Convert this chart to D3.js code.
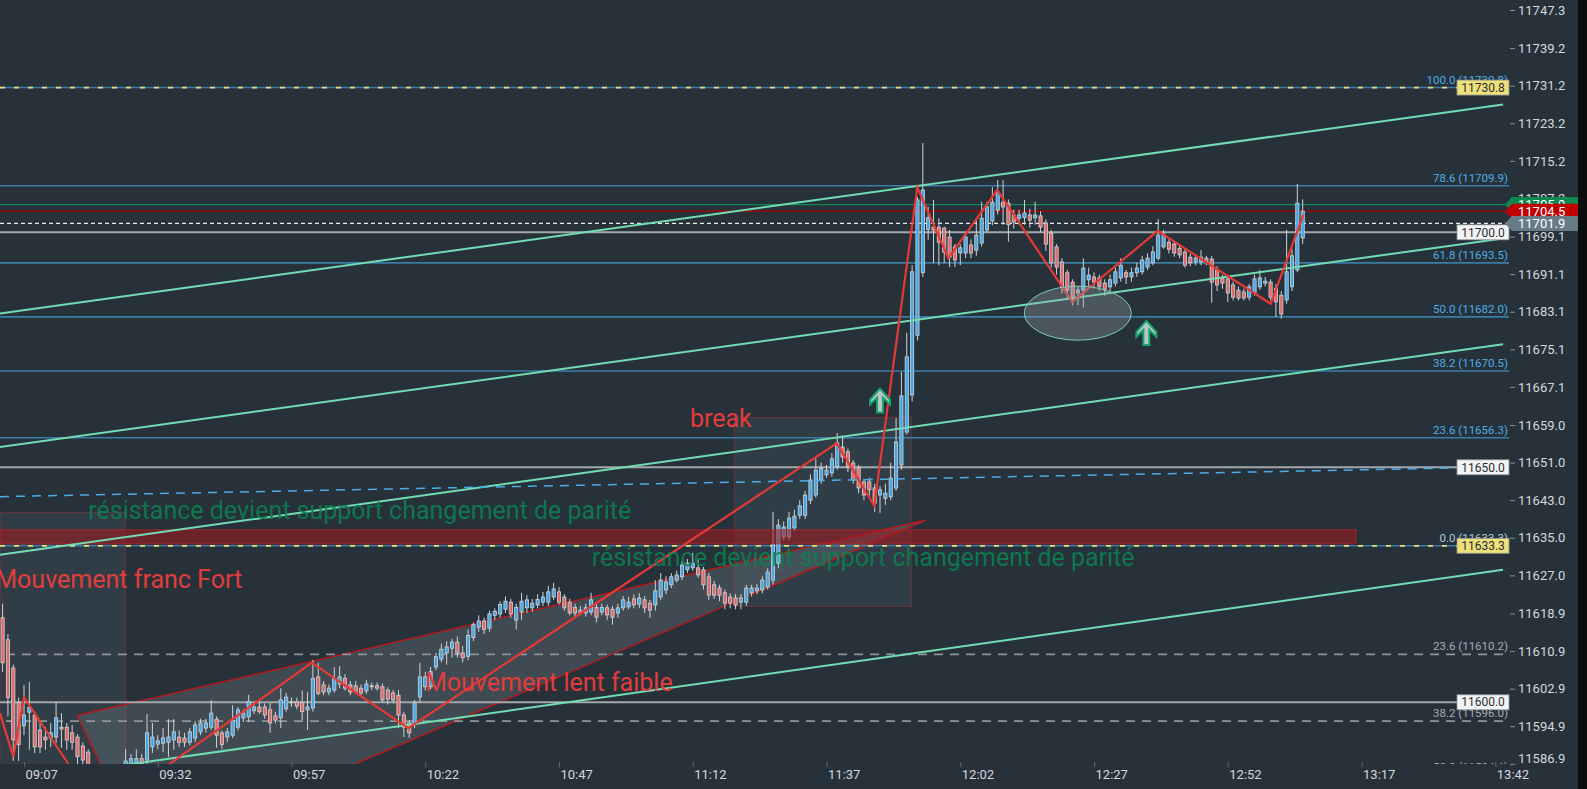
<!DOCTYPE html>
<html><head><meta charset="utf-8">
<script src="https://cdn.jsdelivr.net/npm/d3@7"></script>
<style>
html,body{margin:0;padding:0;background:#0a0c0e;}
svg{display:block;font-family:Roboto,"Noto Sans",sans-serif;}
</style></head><body>
<svg id="chart" width="1587" height="789"></svg>
<script>
// ---------------- DATA ----------------
const candleStart = "09:03";
// [open, high, low, close] one candle per minute
const ohlc = [
[11618.0,11621.0,11606.5,11608.4],[11613.3,11614.5,11597.0,11601.0],[11607.3,11608.0,11587.5,11592.0],[11599.9,11601.0,11587.5,11591.0],
[11595.0,11603.7,11593.0,11597.3],[11597.9,11604.3,11589.9,11598.9],[11597.3,11598.0,11589.2,11590.5],[11594.1,11595.6,11589.2,11590.5],
[11592.6,11594.7,11589.9,11592.0],[11592.4,11595.6,11590.5,11593.5],[11592.6,11600.1,11591.3,11596.7],[11594.7,11597.7,11590.3,11594.3],
[11594.7,11595.6,11589.9,11592.0],[11593.5,11595.2,11589.9,11591.5],[11592.6,11593.2,11585.5,11588.4],[11590.7,11591.5,11584.5,11587.7],
[11589.4,11590.0,11583.0,11585.0],[11585.0,11586.0,11580.5,11582.0],[11582.0,11583.5,11579.0,11580.5],[11580.5,11582.5,11578.5,11581.5],
[11581.5,11584.0,11580.0,11583.0],[11583.0,11585.5,11581.5,11584.5],[11584.5,11586.5,11582.0,11585.0],[11586.0,11590.0,11584.0,11587.5],
[11586.0,11589.0,11584.0,11588.0],[11587.0,11590.0,11585.0,11588.0],[11588.0,11589.0,11585.0,11587.0],[11587.7,11597.5,11586.5,11593.5],
[11590.5,11595.6,11589.2,11592.6],[11591.1,11593.0,11590.0,11591.8],[11591.3,11594.5,11589.4,11592.4],[11591.5,11596.4,11588.4,11592.6],
[11592.0,11596.4,11589.9,11593.7],[11592.6,11594.0,11590.5,11591.5],[11592.4,11593.5,11590.5,11591.5],[11591.5,11594.5,11590.8,11593.7],
[11592.4,11596.0,11591.5,11595.2],[11593.7,11596.5,11593.0,11595.6],[11594.5,11596.5,11593.5,11595.6],[11594.7,11600.5,11594.1,11597.7],
[11596.4,11597.0,11590.3,11593.0],[11593.5,11594.0,11590.0,11591.0],[11592.6,11594.5,11591.5,11593.7],[11593.0,11599.4,11592.4,11596.2],
[11594.7,11599.0,11594.0,11598.4],[11596.7,11598.5,11595.8,11597.7],[11596.9,11601.6,11595.8,11600.1],[11598.2,11600.0,11597.5,11599.0],
[11599.0,11600.5,11597.5,11598.0],[11599.0,11599.8,11596.5,11597.3],[11598.4,11599.9,11593.5,11595.6],[11597.1,11598.0,11595.5,11596.2],
[11596.7,11603.0,11594.5,11600.5],[11598.6,11602.0,11598.0,11601.1],[11599.9,11601.0,11599.0,11600.1],[11600.1,11601.0,11598.5,11599.2],
[11599.9,11602.5,11596.2,11598.0],[11598.4,11602.2,11594.1,11599.0],[11598.8,11609.0,11598.0,11605.1],[11605.4,11608.4,11601.5,11601.9],
[11603.7,11604.5,11601.5,11602.2],[11602.2,11603.8,11601.5,11603.0],[11602.6,11607.5,11602.0,11605.1],[11603.9,11607.7,11603.0,11605.4],
[11605.1,11606.0,11602.5,11603.0],[11603.7,11604.5,11601.5,11602.2],[11603.5,11604.5,11601.8,11602.2],[11603.0,11603.8,11601.5,11602.0],
[11602.4,11604.8,11601.8,11603.9],[11603.3,11604.2,11602.6,11603.5],[11603.5,11604.2,11602.5,11603.0],[11603.3,11604.0,11600.0,11600.5],
[11602.6,11603.2,11599.5,11600.7],[11602.0,11602.6,11599.8,11600.5],[11601.5,11602.6,11594.5,11597.3],[11597.3,11598.0,11592.6,11594.7],
[11595.6,11596.2,11592.4,11593.5],[11595.2,11600.5,11594.5,11599.9],[11601.1,11608.4,11599.9,11605.4],[11603.3,11606.5,11602.5,11605.4],
[11603.3,11607.5,11602.8,11606.5],[11607.5,11610.5,11606.8,11609.7],[11609.2,11612.5,11608.5,11611.3],[11610.5,11613.0,11608.0,11611.8],
[11611.5,11613.5,11609.5,11612.8],[11612.8,11614.0,11609.5,11610.5],[11610.5,11612.0,11608.5,11609.5],[11609.8,11615.5,11609.0,11614.2],
[11613.8,11617.0,11613.0,11616.5],[11616.0,11618.5,11615.0,11617.3],[11617.3,11618.0,11614.5,11615.5],[11615.8,11619.5,11615.0,11618.8],
[11618.5,11620.0,11617.5,11619.3],[11618.8,11621.5,11618.0,11620.8],[11619.8,11622.5,11619.0,11621.5],[11621.3,11622.0,11618.0,11618.8],
[11617.5,11621.0,11615.5,11620.2],[11619.2,11623.3,11617.5,11621.5],[11620.1,11622.8,11619.0,11621.8],[11620.1,11622.0,11619.3,11621.1],
[11620.7,11623.0,11620.0,11621.9],[11621.3,11623.5,11620.5,11622.4],[11621.3,11624.8,11620.5,11623.5],[11622.4,11625.4,11621.8,11624.1],
[11623.5,11624.5,11620.8,11621.3],[11622.4,11623.0,11619.5,11620.1],[11621.3,11622.0,11618.5,11619.0],[11620.2,11621.0,11618.3,11619.0],
[11619.6,11620.5,11618.5,11619.0],[11619.0,11621.0,11618.2,11620.1],[11619.2,11623.3,11618.5,11621.8],[11620.2,11621.0,11617.0,11618.1],
[11619.2,11621.0,11618.5,11620.2],[11620.1,11620.8,11617.5,11618.6],[11619.8,11620.5,11616.5,11618.1],[11619.0,11621.0,11618.0,11620.1],
[11620.1,11622.6,11619.5,11621.8],[11620.3,11622.5,11619.8,11621.3],[11622.0,11623.0,11620.0,11620.7],[11620.9,11623.2,11620.0,11622.2],
[11621.8,11622.6,11619.0,11620.1],[11621.1,11621.8,11618.0,11619.6],[11620.7,11626.0,11619.5,11623.7],[11622.4,11627.5,11621.8,11626.0],
[11623.9,11626.8,11623.0,11625.6],[11625.0,11627.5,11624.3,11626.7],[11626.0,11628.0,11625.5,11627.1],[11626.7,11630.0,11626.0,11629.2],
[11628.2,11630.5,11627.5,11629.6],[11628.6,11631.8,11628.0,11629.6],[11628.6,11630.5,11626.5,11627.1],[11628.2,11628.8,11624.0,11625.0],
[11626.7,11627.5,11621.8,11622.8],[11625.0,11625.8,11622.0,11622.8],[11624.3,11625.0,11621.5,11622.8],[11623.3,11624.0,11619.8,11621.1],
[11622.4,11623.2,11620.0,11621.1],[11622.2,11623.0,11619.8,11620.7],[11621.3,11623.0,11619.8,11622.2],[11621.3,11625.0,11620.5,11624.3],
[11623.3,11625.0,11622.5,11624.3],[11623.7,11625.2,11623.0,11624.3],[11623.9,11626.8,11623.2,11626.0],[11624.5,11628.5,11624.0,11627.7],
[11626.0,11640.5,11625.0,11633.5],[11629.6,11639.0,11628.5,11637.7],[11635.2,11638.5,11634.5,11637.3],[11635.2,11640.5,11634.5,11639.2],
[11637.1,11641.0,11636.5,11639.6],[11639.8,11643.0,11639.0,11641.8],[11639.8,11645.0,11639.0,11644.1],[11643.0,11648.5,11642.2,11647.3],
[11644.1,11651.8,11643.5,11649.4],[11647.3,11651.0,11646.5,11649.8],[11648.4,11650.5,11647.8,11649.4],[11648.8,11653.0,11648.0,11651.8],
[11650.1,11657.3,11649.5,11655.2],[11654.3,11656.8,11651.0,11652.2],[11653.3,11654.0,11649.0,11650.1],[11650.9,11651.5,11646.5,11647.3],
[11649.9,11650.5,11644.5,11645.6],[11646.9,11647.5,11643.0,11644.1],[11646.9,11647.8,11644.0,11645.2],[11645.6,11646.5,11640.5,11642.4],
[11644.1,11646.0,11640.3,11645.2],[11643.4,11646.5,11642.0,11644.5],[11643.7,11651.0,11643.0,11647.7],[11645.6,11660.5,11645.0,11655.4],
[11650.5,11670.3,11649.5,11665.2],[11657.5,11678.6,11657.0,11673.5],[11665.4,11693.0,11664.0,11691.6],[11678.1,11707.5,11677.0,11706.9],
[11691.4,11719.0,11690.5,11709.0],[11700.6,11705.4,11698.4,11703.1],[11701.1,11706.9,11693.5,11700.5],[11701.1,11703.0,11693.0,11697.9],
[11700.9,11701.2,11693.5,11695.8],[11699.0,11700.5,11692.6,11694.7],[11696.9,11697.5,11692.6,11694.1],[11695.6,11697.5,11693.0,11696.7],
[11695.6,11699.8,11694.5,11699.0],[11697.3,11698.5,11694.5,11695.6],[11696.2,11702.6,11695.0,11699.4],[11697.7,11706.5,11697.0,11703.0],
[11700.5,11706.5,11700.0,11705.4],[11702.4,11709.6,11701.5,11706.4],[11704.7,11711.1,11703.8,11708.6],[11706.4,11711.1,11701.6,11705.4],
[11706.2,11707.0,11698.0,11701.6],[11703.7,11704.8,11700.8,11702.2],[11703.0,11704.8,11701.5,11703.7],[11703.1,11706.9,11701.6,11704.1],
[11703.7,11705.0,11701.0,11702.6],[11703.1,11706.5,11701.6,11703.7],[11703.5,11704.5,11700.0,11701.1],[11702.0,11702.8,11696.0,11697.5],
[11699.8,11700.5,11692.5,11693.5],[11696.9,11697.5,11691.0,11692.6],[11693.7,11694.5,11687.0,11688.4],[11691.4,11692.0,11686.0,11687.7],
[11689.4,11690.0,11684.5,11686.0],[11687.7,11688.5,11684.5,11687.1],[11687.7,11694.5,11684.0,11692.4],[11689.9,11692.5,11688.5,11690.9],
[11690.5,11691.5,11688.0,11689.4],[11690.3,11691.0,11687.5,11688.4],[11689.2,11690.0,11686.5,11687.9],[11688.4,11691.0,11687.5,11689.9],
[11689.2,11692.5,11688.5,11691.6],[11690.3,11694.5,11689.5,11693.0],[11691.4,11692.0,11689.0,11690.5],[11690.5,11692.5,11689.5,11691.4],
[11691.4,11693.5,11690.5,11692.4],[11691.6,11695.0,11691.0,11694.1],[11692.6,11695.5,11692.0,11694.5],[11693.5,11697.0,11693.0,11695.8],
[11694.5,11702.8,11694.0,11699.4],[11696.9,11700.5,11696.5,11699.6],[11697.9,11698.5,11695.5,11696.4],[11697.5,11698.0,11694.8,11695.6],
[11696.6,11697.5,11694.5,11695.2],[11695.8,11696.5,11692.5,11693.0],[11694.7,11695.5,11692.8,11693.5],[11693.7,11695.2,11693.0,11694.5],
[11693.7,11696.2,11693.0,11694.7],[11694.5,11695.0,11693.0,11693.7],[11694.3,11695.0,11685.0,11689.4],[11692.0,11692.8,11687.5,11688.8],
[11690.3,11691.0,11688.0,11689.2],[11690.1,11690.8,11685.2,11687.1],[11688.8,11689.5,11685.5,11686.2],[11687.7,11688.5,11685.5,11686.0],
[11687.3,11688.0,11685.5,11686.0],[11686.2,11689.0,11685.5,11688.4],[11687.1,11691.0,11686.5,11690.1],[11688.4,11692.0,11687.8,11690.3],
[11689.2,11690.5,11688.5,11689.6],[11689.4,11690.0,11685.5,11686.2],[11688.1,11689.0,11682.0,11685.2],[11686.6,11687.5,11681.6,11682.6],
[11685.6,11700.5,11684.8,11691.6],[11688.4,11696.5,11687.5,11695.0],[11692.0,11710.3,11691.5,11706.2],[11698.8,11707.0,11697.5,11704.5]
];

const xDomain = ["09:02:31", "13:44:45"];
const yDomain = [11586.87, 11749.43];
const timeTicks = ["09:07","09:32","09:57","10:22","10:47","11:12","11:37","12:02","12:27","12:52","13:17","13:42"];
const priceTicks = [11747.3,11739.2,11731.2,11723.2,11715.2,11707.2,11699.1,11691.1,11683.1,11675.1,11667.1,11659.0,11651.0,11643.0,11635.0,11627.0,11618.9,11610.9,11602.9,11594.9,11586.9];

// fibonacci levels
const fibBlue = [["100.0",11730.8],["78.6",11709.9],["61.8",11693.5],["50.0",11682.0],["38.2",11670.5],["23.6",11656.3],["0.0",11633.3]];
const fibGray = [["23.6",11610.2],["38.2",11596.0],["50.0",11584.6]];
const levelLines = [11700.0, 11650.0, 11600.0];
const yellowLevels = [11730.8, 11633.3];
const greenPrice = 11705.9, lastPrice = 11704.5, markPrice = 11701.9;

// drawings [time, price]
const channelLines = [
  [["09:02:31",11682.7],["13:43:27",11727.2]],
  [["09:02:31",11654.3],["13:43:27",11698.7]],
  [["09:02:31",11631.4],["13:43:27",11676.2]],
  [["09:20:28",11585.8],["13:43:27",11628.2]]
];
const blueDashLine = [["09:02:31",11643.75],["13:34:40",11649.86]];
const zigzagLeft = [["09:02:31",11597.7],["09:05:00",11588.4],["09:07:00",11601.1],["09:14:59",11587.4],["09:17:28",11583.1]];
const zigzagMain = [["09:28:41",11582.4],["10:00:47",11608.4],["10:18:50",11594.5],["11:38:54",11655.1],["11:45:56",11641.8],
  ["11:53:58",11709.6],["11:59:46",11694.5],["12:08:55",11709.0],["12:22:56",11685.2],["12:38:54",11700.3],["13:00:02",11684.8],["13:06:07",11703.7]];
const wedge = [["09:16:58",11597.2],["11:55:36",11638.8],["09:29:20",11567.6]];
const boxFranc = [["09:02:31",11640.4],["09:25:58",11570.0]];
const boxBreak = [["11:19:46",11660.6],["11:52:56",11620.4]];
const redZone = [["09:02:31",11636.7],["13:15:58",11633.7]];
const ellipseZone = [["12:23:58",11682.8],[10.0, 5.75]]; // centre, radii (minutes, points)
const upArrows = [["11:47:00",11664.2],["12:36:47",11678.6]];
const redNotes = [["break","11:11:29",11658.6],["Mouvement franc Fort","09:01:38",11624.3],["Mouvement lent faible","10:21:57",11602.3]];
const greenNotes = [["résistance devient support changement de parité","09:19:01",11639.0],
  ["résistance devient support changement de parité","10:53:06",11629.1]];

// ---------------- DRAW ----------------
const toMin = s => { const p = s.split(":").map(Number); return p[0]*60 + p[1] + (p[2]||0)/60; };
const W = 1510, H = 764;
const x = d3.scaleLinear().domain(xDomain.map(toMin)).range([0, W]);
const y = d3.scaleLinear().domain(yDomain).range([H, 0]);
const X = t => x(toMin(t));
const P = d => [X(d[0]), y(d[1])];

const svg = d3.select("#chart");
svg.append("rect").attr("width",1587).attr("height",789).attr("fill","#27313a");
svg.append("rect").attr("x",1578).attr("width",9).attr("height",789).attr("fill","#0a0c0e");
svg.append("defs").append("clipPath").attr("id","plot").append("rect").attr("width",W).attr("height",H);
const g = svg.append("g").attr("clip-path","url(#plot)");

function box(b, fill, stroke){
  const [x1,y1] = P(b[0]), [x2,y2] = P(b[1]);
  g.append("rect").attr("x",Math.min(x1,x2)).attr("y",Math.min(y1,y2))
   .attr("width",Math.abs(x2-x1)).attr("height",Math.abs(y2-y1))
   .attr("fill",fill).attr("stroke",stroke).attr("stroke-width",1.2);
}
box(boxFranc,"rgba(95,115,128,0.18)","rgba(190,45,45,0.35)");
box(boxBreak,"rgba(95,115,128,0.18)","rgba(190,45,45,0.35)");

g.append("path").attr("d","M"+wedge.map(P).join("L")+"Z")
  .attr("fill","rgba(120,132,140,0.30)").attr("stroke","#b3191e").attr("stroke-width",1.5);

// fib blue lines
fibBlue.forEach(f=>{
  g.append("line").attr("x1",0).attr("x2",W-1).attr("y1",y(f[1])).attr("y2",y(f[1]))
   .attr("stroke","#3b7ca6").attr("stroke-width",1.6);
});
yellowLevels.forEach(v=>{
  g.append("line").attr("x1",0).attr("x2",W-1).attr("y1",y(v)).attr("y2",y(v))
   .attr("stroke","#e9dc78").attr("stroke-width",1.8).attr("stroke-dasharray","5,9");
});
fibGray.forEach(f=>{
  g.append("line").attr("x1",6).attr("x2",W-1).attr("y1",y(f[1])).attr("y2",y(f[1]))
   .attr("stroke","#8f959b").attr("stroke-width",1.6).attr("stroke-dasharray","9,7");
});
levelLines.forEach(v=>{
  g.append("line").attr("x1",0).attr("x2",W-1).attr("y1",y(v)).attr("y2",y(v))
   .attr("stroke","#a3a8ad").attr("stroke-width",2);
});
g.append("line").attr("x1",0).attr("x2",W-1).attr("y1",y(greenPrice)).attr("y2",y(greenPrice)).attr("stroke","#0c8a52").attr("stroke-width",1.3);
g.append("line").attr("x1",0).attr("x2",W-1).attr("y1",y(lastPrice)).attr("y2",y(lastPrice)).attr("stroke","#b30000").attr("stroke-width",1.3);
g.append("line").attr("x1",0).attr("x2",W-1).attr("y1",y(markPrice)).attr("y2",y(markPrice)).attr("stroke","#e8eaec").attr("stroke-width",1.2).attr("stroke-dasharray","4,3");

// candles
const t0 = toMin(candleStart);
const cg = g.append("g");
ohlc.forEach((c,i)=>{
  const cx = x(t0+i);
  const up = c[3] >= c[0];
  cg.append("line").attr("x1",cx).attr("x2",cx).attr("y1",y(c[1])).attr("y2",y(c[2]))
    .attr("stroke","#cfd4d9").attr("stroke-width",1);
  const top = y(Math.max(c[0],c[3])), bot = y(Math.min(c[0],c[3]));
  cg.append("rect").attr("x",cx-1.6).attr("width",3.2).attr("y",top).attr("height",Math.max(1,bot-top))
    .attr("fill", up ? "#45a8e6" : "#e26a6a").attr("stroke","#cfd4d9").attr("stroke-width",0.8);
});

// red zone
box(redZone,"rgba(165,22,28,0.55)","rgba(200,35,35,0.55)");

// channel lines
channelLines.forEach(l=>{
  g.append("line").attr("x1",X(l[0][0])).attr("y1",y(l[0][1])).attr("x2",X(l[1][0])).attr("y2",y(l[1][1]))
   .attr("stroke","#72dcb4").attr("stroke-width",2);
});
g.append("line").attr("x1",X(blueDashLine[0][0])).attr("y1",y(blueDashLine[0][1]))
  .attr("x2",X(blueDashLine[1][0])).attr("y2",y(blueDashLine[1][1]))
  .attr("stroke","#4aaee6").attr("stroke-width",1.5).attr("stroke-dasharray","9,7");

// zigzags
[zigzagLeft, zigzagMain].forEach(z=>{
  g.append("path").attr("d","M"+z.map(P).join("L")).attr("fill","none")
   .attr("stroke","#e53935").attr("stroke-width",2.2).attr("stroke-linejoin","miter");
});

// ellipse
{
  const c = P(ellipseZone[0]);
  const rx = x(toMin(ellipseZone[0][0]) + ellipseZone[1][0]) - c[0];
  const ry = y(ellipseZone[0][1] - ellipseZone[1][1]) - c[1];
  g.append("ellipse").attr("cx",c[0]).attr("cy",c[1]).attr("rx",rx).attr("ry",ry)
   .attr("fill","rgba(150,165,170,0.33)").attr("stroke","#7fcfb6").attr("stroke-width",1);
}

// arrows
upArrows.forEach(a=>{
  const [ax,ay] = P(a);
  g.append("path").attr("transform",`translate(${ax},${ay})`)
   .attr("d","M0,-12L10,-1L10,4L3,-3L3,12L-3,12L-3,-3L-10,4L-10,-1Z")
   .attr("fill","#b9c6c6").attr("stroke","#14a56c").attr("stroke-width",2).attr("stroke-linejoin","miter");
});

// notes
redNotes.forEach(n=>{
  g.append("text").attr("x",X(n[1])).attr("y",y(n[2])).text(n[0])
   .attr("font-size",25).attr("fill","#e23c3c");
});
greenNotes.forEach(n=>{
  g.append("text").attr("x",X(n[1])).attr("y",y(n[2])).text(n[0])
   .attr("font-size",25).attr("fill","#0b8050").attr("fill-opacity",0.9);
});

// fib labels
fibBlue.forEach(f=>{
  g.append("text").attr("x",W-2).attr("y",y(f[1])-4).attr("text-anchor","end")
   .attr("font-size",11.5).attr("fill", f[0]==="0.0" ? "#a9c9df" : "#4eaee6")
   .text(`${f[0]} (${f[1].toFixed(1)})`);
});
fibGray.forEach(f=>{
  g.append("text").attr("x",W-2).attr("y",y(f[1])-4).attr("text-anchor","end")
   .attr("font-size",11.5).attr("fill","#a7abb0").text(`${f[0]} (${f[1].toFixed(1)})`);
});

// level label boxes
function levelBox(v, fill){
  const by = y(v);
  g.append("rect").attr("x",W-53).attr("y",by-7.5).attr("width",52).attr("height",15)
   .attr("fill",fill).attr("stroke","#8d9399").attr("stroke-width",0.8);
  g.append("text").attr("x",W-27).attr("y",by).attr("dy","0.35em").attr("text-anchor","middle")
   .attr("font-size",12).attr("fill","#2a2e33").text(v.toFixed(1));
}
yellowLevels.forEach(v=>levelBox(v,"#eee07a"));
levelLines.forEach(v=>levelBox(v,"#f3f4f5"));

// axes
const yAxis = svg.append("g").attr("transform",`translate(${W},0)`)
  .call(d3.axisRight(y).tickValues(priceTicks).tickSize(5).tickPadding(3).tickFormat(d=>d.toFixed(1)));
yAxis.select(".domain").remove();
yAxis.selectAll("line").attr("stroke","#8a9096");
yAxis.selectAll("text").attr("font-size",13).attr("fill","#d5d8dd").attr("font-family","Roboto");
yAxis.selectAll(".tick").filter(d=>d===priceTicks[priceTicks.length-1]).select("text").attr("dy","-0.12em");

const xAxis = svg.append("g").attr("transform",`translate(0,${H})`)
  .call(d3.axisBottom(x).tickValues(timeTicks.map(toMin)).tickSize(3).tickPadding(3)
  .tickFormat(d=>timeTicks[timeTicks.map(toMin).indexOf(d)]));
xAxis.select(".domain").remove();
xAxis.selectAll("line").attr("stroke","#5f6870").attr("y1",-2);
xAxis.selectAll("text").attr("font-size",13).attr("fill","#d5d8dd").attr("text-anchor","start").attr("x",1).attr("font-family","Roboto");

// price tags on axis
function tag(v, fill, label){
  const ty = y(v);
  const pts = [[W-5,ty],[W+2,ty-7.5],[1578,ty-7.5],[1578,ty+7.5],[W+2,ty+7.5]];
  svg.append("path").attr("d","M"+pts.join("L")+"Z").attr("fill",fill);
  svg.append("text").attr("x",W+8).attr("y",ty).attr("dy","0.35em").attr("font-size",13)
   .attr("fill","#ffffff").text(label);
}
tag(greenPrice,"#0c8a52",greenPrice.toFixed(1));
tag(lastPrice,"#c00000",lastPrice.toFixed(1));
tag(markPrice,"#687c88",markPrice.toFixed(1));
</script>
</body></html>
